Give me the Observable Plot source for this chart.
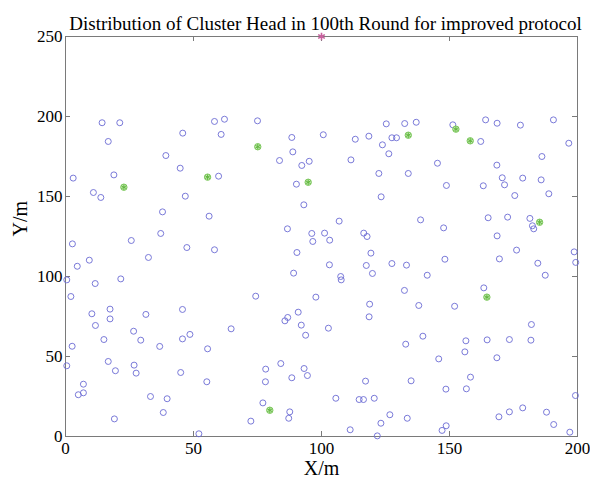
<!DOCTYPE html>
<html><head><meta charset="utf-8">
<script src="https://cdn.jsdelivr.net/npm/d3@7"></script>
<script src="https://cdn.jsdelivr.net/npm/@observablehq/plot@0.6"></script>
<style>body{margin:0;background:#fff}</style>
</head><body><div id="chart"></div>
<script>
const title = "Distribution of Cluster Head in 100th Round for improved protocol";
const xLabel = "X/m";
const yLabel = "Y/m";
const xTicks = [0, 50, 100, 150, 200];
const yTicks = [0, 50, 100, 150, 200, 250];
const xDomain = [0, 200];
const yDomain = [0, 250];

// normal sensor nodes [x, y]
const nodes = [
[14.3,196.1],[21.2,196.1],[16.7,184.4],[39.2,175.6],[44.8,167.7],[45.8,189.6],[58.2,196.9],[62.1,198.3],[60.8,188.8],[75,197.3],
[88.4,186.9],[100.7,188.6],[88.8,177.9],[83.6,172.5],[92.3,169.4],[95.2,172],[111.5,172.9],[113.2,185.8],[118.5,187.7],[125.3,195.4],
[123.8,182.3],[127.5,186.7],[129.3,186.7],[126.3,176.7],[132.5,195.6],[137,196.4],[151.3,194.8],[164.1,197.9],[168.6,195.8],[177.7,194.6],
[190.6,197.9],[162.2,184.4],[196.6,183.3],[145.3,170.8],[168.5,169.6],[186.1,175],[133.9,164.4],[3,161.5],[18.9,163.5],[10.9,152.5],
[13.8,149.4],[59.8,162.7],[46.8,150.2],[37.9,140.4],[56.1,137.7],[37.2,126.9],[25.7,122.5],[2.7,120.4],[47.4,118.1],[58.2,116.7],
[32.4,111.9],[9.3,110.2],[4.6,106.4],[0.5,97.9],[11.6,95.6],[21.6,98.5],[2.1,87.5],[90.2,157.7],[122.4,164.4],[123.3,149.8],
[93.1,144.8],[106.9,134.6],[86.7,129.8],[96.2,126.9],[101.2,127.1],[96.6,121.9],[103.2,122.7],[116.5,127.1],[117.8,125],[90.4,115],
[119.3,114.6],[103.1,107.3],[117.5,106.9],[127.5,108.1],[89.1,102.1],[107.5,100],[107.7,97.9],[119.9,101.9],[74.3,87.7],[97.8,87.1],
[118.8,82.7],[148.8,156.9],[163.2,156.7],[170.6,161.7],[171.5,157.3],[178.6,161.5],[185.8,160.4],[175.5,150.6],[188.8,151.7],[138.7,135.4],
[147.7,130.4],[165.1,136.7],[172.7,137.1],[181.4,136.3],[182.4,131.7],[182.9,129.8],[168.6,125.4],[176.2,116.5],[198.7,115.4],[199.3,108.8],
[148.2,110.8],[169.5,111],[184.5,108.3],[133.2,107.1],[141.3,100.8],[187.4,100.8],[132.4,91.3],[163.4,92.9],[138,81.9],[152,81.4],
[10.3,76.7],[17.4,79.6],[17.4,73.5],[11.7,69.4],[2.6,56.4],[15,60.6],[26.6,65.8],[31.4,76.3],[29.4,60.2],[45.7,79.4],
[45.7,61],[48.6,63.8],[64.7,67.3],[36.8,56.3],[55.5,54.8],[0.5,44.2],[16.7,46.9],[19.5,41.1],[26.8,44.6],[27.6,39.6],
[45,40],[55.2,34.2],[7,32.7],[7,27.3],[5,26.1],[33.2,25],[39.7,23.6],[38.2,15],[19.1,11],[52.1,1.7],
[90.9,77.7],[86.8,74.4],[85.7,72.3],[92.1,69.6],[93.8,63.3],[102.7,67.7],[118.6,74.8],[84.1,45.6],[78.2,42.1],[93.2,42.5],
[94.5,38.1],[88.4,36.7],[78.1,34.2],[117.2,34.6],[105.6,23.9],[114.7,23.1],[116.4,23.1],[120.6,23.9],[77.1,21],[87.6,15.4],
[87.2,11.4],[72.4,9.6],[126.7,13.6],[123.2,8.3],[111.2,4.2],[121.8,0.4],[182,70],[139.6,62.7],[132.9,57.7],[156.4,59.8],
[164.7,60.4],[173.4,60.6],[181.8,60.2],[156,52.9],[145.8,48.5],[168.5,49.2],[135,34.8],[158.2,37.1],[148.6,29.6],[156.6,29.8],
[199.2,25.6],[133.5,11.4],[169.3,12.3],[173.4,15.4],[178.6,17.9],[187.9,15.2],[190.7,7.5],[197,2.7],[148.7,6.7],[147.1,3.8]
];
// cluster heads [x, y]
const heads = [
[75.1,181.1],[133.9,188.3],[152.5,192.1],[158.1,184.8],[22.8,155.8],[55.5,162.1],[94.8,158.9],[185.2,133.9],[164.6,87.1],[79.8,16.4]
];
// base station [x, y]
const sink = [[100,250]];

const W = 590, H = 487, mL = 65, mR = 13, mT = 36, mB = 51;
const innerW = W - mL - mR, innerH = H - mT - mB, tick = 5;
const axisColor = "#7a7a7a";

const chart = Plot.plot({
  width: W, height: H,
  marginLeft: mL, marginRight: mR, marginTop: mT, marginBottom: mB,
  style: {fontFamily: "'Liberation Serif', 'DejaVu Serif', serif", background: "#fff", color: "#000", overflow: "visible"},
  x: {domain: xDomain},
  y: {domain: yDomain},
  marks: [
    Plot.frame({stroke: axisColor}),
    Plot.tickX(xTicks, {x: d => d, stroke: axisColor, insetTop: innerH - tick}),
    Plot.tickX(xTicks, {x: d => d, stroke: axisColor, insetBottom: innerH - tick}),
    Plot.tickY(yTicks, {y: d => d, stroke: axisColor, insetRight: innerW - tick}),
    Plot.tickY(yTicks, {y: d => d, stroke: axisColor, insetLeft: innerW - tick}),
    Plot.axisX({ticks: xTicks, tickSize: 0, tickPadding: 5, fontSize: 17, label: null, fill: "#000"}),
    Plot.axisY({ticks: yTicks, tickSize: 0, tickPadding: 3, fontSize: 17, label: null, fill: "#000"}),
    Plot.dot(nodes, {x: d => d[0], y: d => d[1], r: 3, stroke: "#6b6bd4", strokeWidth: 0.9, fill: "none"}),
    Plot.dot(heads, {x: d => d[0], y: d => d[1], r: 3.2, stroke: "#7cc85c", strokeWidth: 1, fill: "#c4e8b2"}),
    Plot.dot(heads, {x: d => d[0], y: d => d[1], r: 2.6, symbol: "asterisk", stroke: "#62b840", strokeWidth: 1}),
    Plot.dot(sink, {x: d => d[0], y: d => d[1], r: 3.6, symbol: "asterisk", stroke: "#c8609e", strokeWidth: 1.6}),
    Plot.text([title], {frameAnchor: "top", dy: -20, dx: 4, fontSize: 19, fill: "#000"}),
    Plot.text([xLabel], {frameAnchor: "bottom", dy: 38, fontSize: 20, fill: "#000"}),
    Plot.text([yLabel], {frameAnchor: "left", dx: -45, rotate: -90, fontSize: 20, fill: "#000"})
  ]
});
document.getElementById("chart").appendChild(chart);
</script>
</body></html>
